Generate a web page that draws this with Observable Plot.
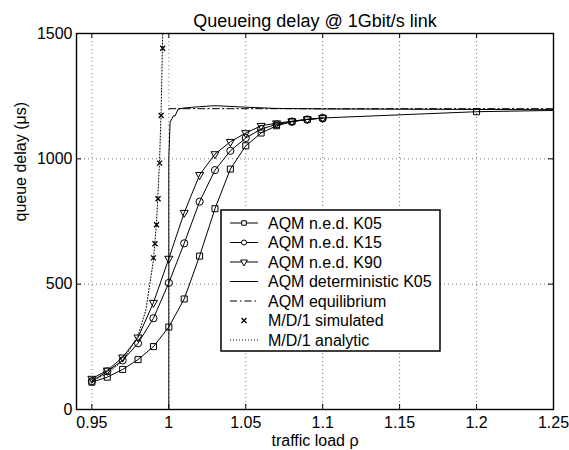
<!DOCTYPE html>
<html><head><meta charset="utf-8">
<script src="https://cdn.jsdelivr.net/npm/d3@7"></script>
<script src="https://cdn.jsdelivr.net/npm/@observablehq/plot@0.6"></script>
<style>
body{margin:0;background:#fff}
#wrap{width:569px;height:450px}
</style>
</head><body><div id="wrap"></div>
<script>
// ---- data ----
const titleText = "Queueing delay @ 1Gbit/s link";
const xLabel = "traffic load ρ";
const yLabel = "queue delay (μs)";
const xTicks = [0.95, 1, 1.05, 1.1, 1.15, 1.2, 1.25];
const yTicks = [0, 500, 1000, 1500];

const k05Rho   = [0.95,0.96,0.97,0.98,0.99,1.00,1.01,1.02,1.03,1.04,1.05,1.06,1.07,1.08,1.09,1.10,1.20,1.25];
const k05Delay = [109,129,160,199,251,329,441,612,801,959,1052,1103,1132,1148,1157,1163,1188,1193];
const nedRho   = [0.95,0.96,0.97,0.98,0.99,1.00,1.01,1.02,1.03,1.04,1.05,1.06,1.07,1.08,1.09,1.10];
const k15Delay = [113,152,196,264,364,505,663,829,955,1032,1083,1119,1137,1149,1157,1162];
const k90Delay = [123,156,208,288,426,602,785,936,1019,1068,1103,1132,1142,1150,1158,1163];

const detRho   = [1.0,1.0,1.0008,1.002,1.003,1.004,1.006,1.01,1.02,1.03,1.05,1.07,1.1,1.25];
const detDelay = [0,1000,1145,1160,1172,1170,1198,1203,1208,1212,1206,1201,1199,1196];

const eqRho   = [1.0, 1.25];
const eqDelay = [1200, 1200];

const simRho   = [0.990,0.991,0.992,0.993,0.994,0.995,0.996];
const simDelay = [605,661,737,841,983,1173,1441];

const anaRho   = [0.95,0.96,0.97,0.98,0.985,0.99,0.992,0.994,0.995,0.996,0.9962];
const anaDelay = [114,144,194,294,395,595,745,995,1195,1495,1560];

const legendLabels = ["AQM n.e.d. K05","AQM n.e.d. K15","AQM n.e.d. K90","AQM deterministic K05","AQM equilibrium","M/D/1 simulated","M/D/1 analytic"];

// ---- chart ----
const FONT = "'Liberation Sans', Arial, Helvetica, sans-serif";
const W = 569, H = 450, ML = 76, MR = 16, MT = 33, MB = 41;
const PW = W - ML - MR, PH = H - MT - MB;
const dotStyle = "1,3";

const chart = Plot.plot({
  width: W, height: H,
  marginLeft: ML, marginRight: MR, marginTop: MT, marginBottom: MB,
  x: {domain: [0.94, 1.25]},
  y: {domain: [0, 1500]},
  style: {fontFamily: FONT, fontSize: "16px", color: "black", background: "white", overflow: "visible"},
  marks: [
    Plot.gridX(xTicks.slice(0, -1), {stroke: "#000", strokeOpacity: 0.55, strokeDasharray: dotStyle}),
    Plot.gridY(yTicks.slice(1, -1), {stroke: "#000", strokeOpacity: 0.55, strokeDasharray: dotStyle}),
    // inward ticks on all four sides
    Plot.tickX(xTicks, {x: d => d, insetTop: PH - 5, stroke: "black"}),
    Plot.tickX(xTicks, {x: d => d, insetBottom: PH - 5, stroke: "black"}),
    Plot.tickY(yTicks, {y: d => d, insetRight: PW - 5, stroke: "black"}),
    Plot.tickY(yTicks, {y: d => d, insetLeft: PW - 5, stroke: "black"}),
    Plot.axisX(xTicks, {tickSize: 0, tickPadding: 7, tickFormat: d => String(d), label: null, fontSize: 16}),
    Plot.axisY(yTicks, {tickSize: 0, tickPadding: 4, tickFormat: d => String(d), label: null, fontSize: 16}),
    // series
    Plot.line(anaRho, {x: anaRho, y: anaDelay, stroke: "black", strokeWidth: 1, strokeDasharray: "1,2", clip: true}),
    Plot.line(eqRho, {x: eqRho, y: eqDelay, stroke: "black", strokeWidth: 1, strokeDasharray: "7,3,1.5,3"}),
    Plot.line(detRho, {x: detRho, y: detDelay, stroke: "black", strokeWidth: 1}),
    Plot.line(k05Rho, {x: k05Rho, y: k05Delay, stroke: "black", strokeWidth: 1}),
    Plot.line(nedRho, {x: nedRho, y: k15Delay, stroke: "black", strokeWidth: 1}),
    Plot.line(nedRho, {x: nedRho, y: k90Delay, stroke: "black", strokeWidth: 1}),
    Plot.dot(k05Rho, {x: k05Rho, y: k05Delay, filter: d => d <= 1.2, symbol: "square", r: 3.4, stroke: "black", fill: "none", strokeWidth: 1}),
    Plot.dot(nedRho, {x: nedRho, y: k15Delay, symbol: "circle", r: 3.6, stroke: "black", fill: "none", strokeWidth: 1}),
    Plot.dot(nedRho, {x: nedRho, y: k90Delay, symbol: "triangle", r: 3.0, rotate: 180, stroke: "black", fill: "none", strokeWidth: 1}),
    Plot.dot(simRho, {x: simRho, y: simDelay, symbol: "times", r: 2.4, stroke: "black", strokeWidth: 1.3}),
    Plot.frame({stroke: "black", strokeWidth: 1.4}),
    // titles
    Plot.text([titleText], {frameAnchor: "top", dy: -19, fontSize: 18}),
    Plot.text([xLabel], {frameAnchor: "bottom", dy: 36, fontSize: 16}),
    Plot.text([yLabel], {frameAnchor: "left", dx: -56, rotate: -90, fontSize: 16})
  ]
});

// ---- legend (inside the axes, like the original) ----
const svg = d3.select(chart);
const lg = svg.append("g").attr("transform", "translate(221,210)")
  .attr("text-anchor", "start")
  .style("font-family", FONT).style("font-size", "16px");
const box = lg.append("rect").attr("x", 0).attr("y", 0).attr("height", 141)
  .attr("fill", "white").attr("stroke", "black").attr("stroke-width", 1.5);
const styles = [
  {dash: null, sym: d3.symbolSquare, rot: 0, line: true},
  {dash: null, sym: d3.symbolCircle, rot: 0, line: true},
  {dash: null, sym: d3.symbolTriangle, rot: 180, line: true},
  {dash: null, sym: null, line: true},
  {dash: "7,3,1.5,3", sym: null, line: true},
  {dash: null, sym: d3.symbolTimes, rot: 0, line: false},
  {dash: "1,2", sym: null, line: true}
];
let maxW = 0;
legendLabels.forEach((lab, i) => {
  const y = 13 + i * 19.5;
  const s = styles[i];
  if (s.line) {
    lg.append("line").attr("x1", 9).attr("x2", 37).attr("y1", y).attr("y2", y)
      .attr("stroke", "black").attr("stroke-width", 1)
      .attr("stroke-dasharray", s.dash);
  }
  if (s.sym) {
    lg.append("path").attr("d", d3.symbol(s.sym, s.sym === d3.symbolTimes ? 18 : 20)())
      .attr("transform", `translate(23,${y}) rotate(${s.rot})`)
      .attr("fill", s.sym === d3.symbolTimes ? "none" : "white")
      .attr("stroke", "black").attr("stroke-width", s.sym === d3.symbolTimes ? 1.3 : 1);
  }
  lg.append("text").attr("x", 47).attr("y", y).attr("dy", "0.35em")
    .attr("text-anchor", "start").attr("fill", "black").text(lab);
});

document.getElementById("wrap").appendChild(chart);
// size the legend box to its text, as MATLAB does
lg.selectAll("text").each(function() { maxW = Math.max(maxW, this.getComputedTextLength()); });
box.attr("width", Math.round(47 + maxW + 8));
</script>
</body></html>
